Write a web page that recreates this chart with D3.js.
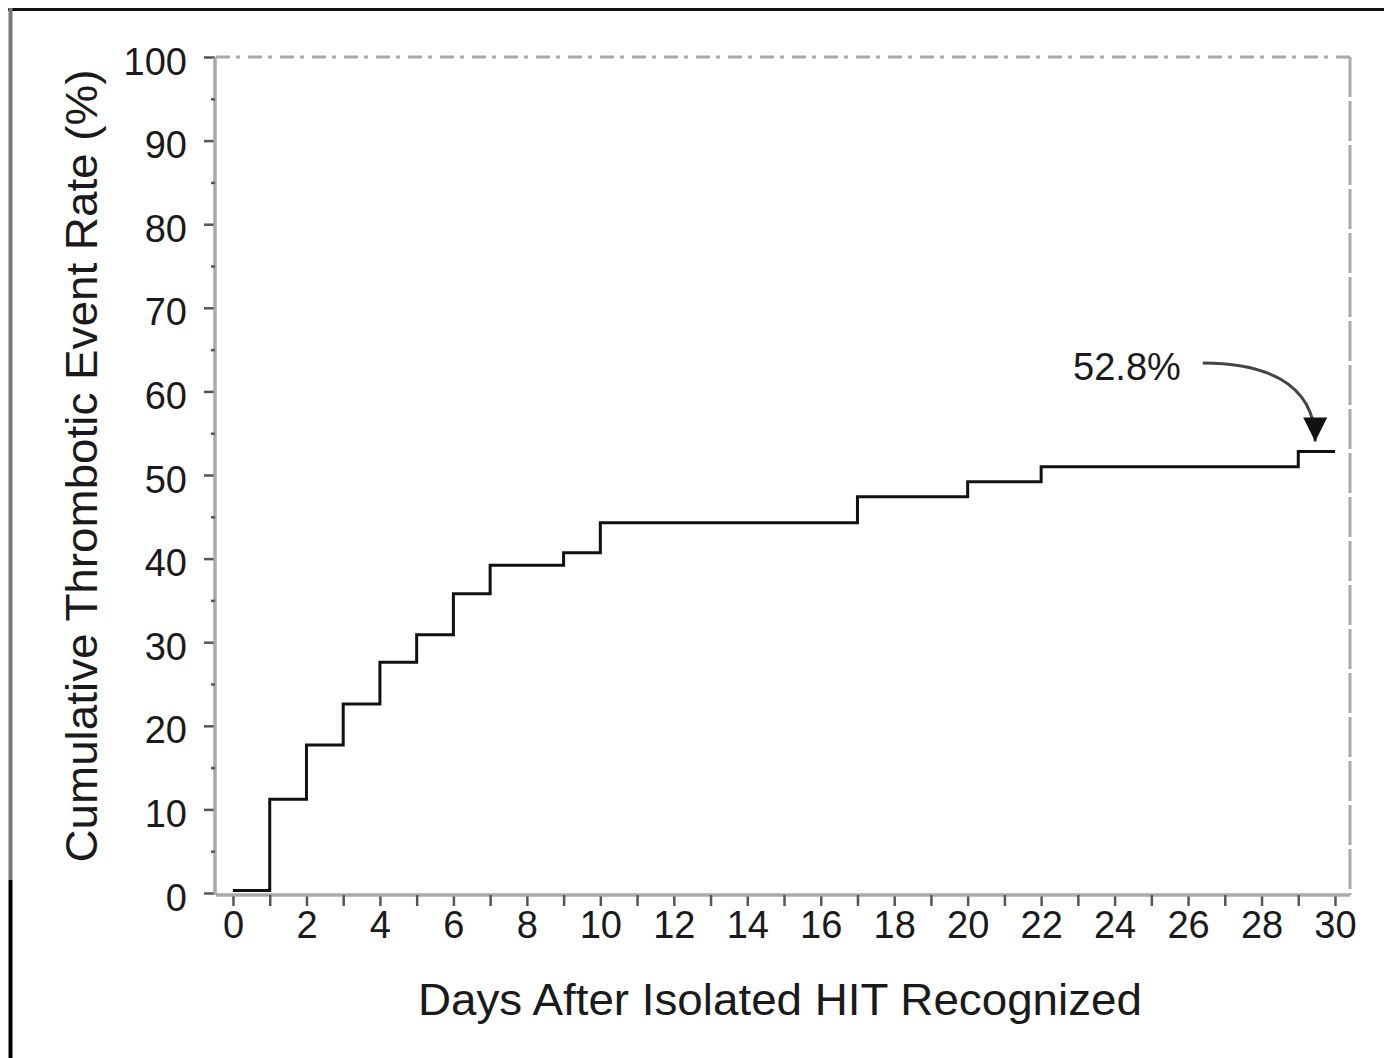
<!DOCTYPE html>
<html lang="en">
<head>
    <meta charset="UTF-8">
    <title>Cumulative Thrombotic Event Rate</title>
    <script src="https://d3js.org/d3.v7.min.js"></script>
    <style>
        body { margin: 0; background: #fff; }
        text { font-family: "Liberation Sans", Arial, sans-serif; fill: #1a1a1a; }
    </style>
</head>
<body>
    <svg width="1384" height="1058"></svg>
    <script>
        // Step data
        const stepDays  = [0, 1, 2, 3, 4, 5, 6, 7, 9, 10, 17, 20, 22, 29, 30];
        const stepRates = [0.3, 11.2, 17.7, 22.6, 27.6, 30.9, 35.8, 39.2, 40.7, 44.3, 47.4, 49.2, 51.0, 52.8, 52.8];

        const xTicks = d3.range(0, 31, 2);
        const xMinor = d3.range(1, 30, 2);
        const yTicks = d3.range(0, 101, 10);
        const yMinor = d3.range(5, 100, 10);

        const annoText = "52.8%";
        const annoAt = {day: 22.87, rate: 61.4};
        const arrowPts = [[26.4, 63.4], [27.95, 63.4], [29.46, 61.4], [29.46, 54.0]];

        const svg = d3.select("svg");

        const x = d3.scaleLinear().domain([0, 30]).range([233, 1335]);
        const y = d3.scaleLinear().domain([0, 100]).range([893, 57]);

        // outer frame (scanned page edge)
        svg.append("line").attr("x1", 8).attr("x2", 1384).attr("y1", 9.5).attr("y2", 9.5)
           .attr("stroke", "#111").attr("stroke-width", 3);
        svg.append("line").attr("x1", 10.5).attr("x2", 10.5).attr("y1", 8).attr("y2", 880)
           .attr("stroke", "#777").attr("stroke-width", 4);
        svg.append("line").attr("x1", 10.5).attr("x2", 10.5).attr("y1", 880).attr("y2", 1058)
           .attr("stroke", "#000").attr("stroke-width", 4);

        // plot box: dotted top, grey right
        svg.append("line").attr("x1", 216).attr("x2", 1350).attr("y1", 57).attr("y2", 57)
           .attr("stroke", "#aaa").attr("stroke-width", 3).attr("stroke-dasharray", "14,6,4,8");
        svg.append("line").attr("x1", 1350).attr("x2", 1350).attr("y1", 57).attr("y2", 895)
           .attr("stroke", "#aaa").attr("stroke-width", 3).attr("stroke-dasharray", "40,4");

        // y axis
        const gy = svg.append("g").attr("transform", "translate(215,0)");
        gy.call(d3.axisLeft(y).tickValues(yTicks).tickSize(11).tickPadding(17).tickFormat(d3.format("d")));
        gy.append("g").call(d3.axisLeft(y).tickValues(yMinor).tickSize(4).tickFormat(""));
        gy.selectAll(".domain").attr("stroke", "#aaa").attr("stroke-width", 3)
          .attr("d", `M0,${y(100)}V${y(0) + 2}`);
        gy.selectAll(".tick line").attr("stroke", "#555").attr("stroke-width", 2.5);
        gy.selectAll(".tick text").attr("font-size", 38).attr("dy", "0.45em")
          .style("font-family", "Liberation Sans, Arial, sans-serif").attr("fill", "#1a1a1a");

        // x axis
        const gx = svg.append("g").attr("transform", "translate(0,895)");
        gx.call(d3.axisBottom(x).tickValues(xTicks).tickSize(11).tickPadding(5).tickFormat(d3.format("d")));
        gx.append("g").call(d3.axisBottom(x).tickValues(xMinor).tickSize(11).tickFormat(""));
        gx.selectAll(".domain").attr("stroke", "#aaa").attr("stroke-width", 3)
          .attr("d", "M216,0H1350");
        gx.selectAll(".tick line").attr("stroke", "#555").attr("stroke-width", 2.5);
        gx.selectAll(".tick text").attr("font-size", 38)
          .style("font-family", "Liberation Sans, Arial, sans-serif").attr("fill", "#1a1a1a");

        // step line
        const pts = stepDays.map((d, i) => [d, stepRates[i]]);
        svg.append("path")
           .datum(pts)
           .attr("fill", "none")
           .attr("stroke", "#111")
           .attr("stroke-width", 3)
           .attr("d", d3.line().x(d => x(d[0])).y(d => y(d[1])).curve(d3.curveStepAfter));

        // annotation
        svg.append("defs").append("marker")
           .attr("id", "head").attr("markerUnits", "userSpaceOnUse")
           .attr("viewBox", "0 0 24 24").attr("refX", 12).attr("refY", 24)
           .attr("markerWidth", 24).attr("markerHeight", 24).attr("orient", "auto-start-reverse")
           .append("path").attr("d", "M0,0L24,0L12,24Z").attr("fill", "#111");

        svg.append("text")
           .attr("x", x(annoAt.day)).attr("y", y(annoAt.rate))
           .attr("font-size", 38).text(annoText);

        const ap = arrowPts.map(p => [x(p[0]), y(p[1])]);
        svg.append("path")
           .attr("d", `M${ap[0]}C${ap[1]} ${ap[2]} ${ap[3]}`)
           .attr("fill", "none").attr("stroke", "#444").attr("stroke-width", 3);
        svg.append("path")
           .attr("d", `M${ap[3][0] - 12},${ap[3][1] - 24}L${ap[3][0] + 12},${ap[3][1] - 24}L${ap[3][0]},${ap[3][1]}Z`)
           .attr("fill", "#111");

        // axis titles
        svg.append("text")
           .attr("x", 780).attr("y", 1015)
           .attr("text-anchor", "middle").attr("font-size", 45)
           .attr("textLength", 724).attr("lengthAdjust", "spacingAndGlyphs")
           .text("Days After Isolated HIT Recognized");

        svg.append("text")
           .attr("transform", "translate(97,466) rotate(-90)")
           .attr("text-anchor", "middle").attr("font-size", 44)
           .attr("textLength", 793).attr("lengthAdjust", "spacingAndGlyphs")
           .text("Cumulative Thrombotic Event Rate (%)");
    </script>
</body>
</html>
